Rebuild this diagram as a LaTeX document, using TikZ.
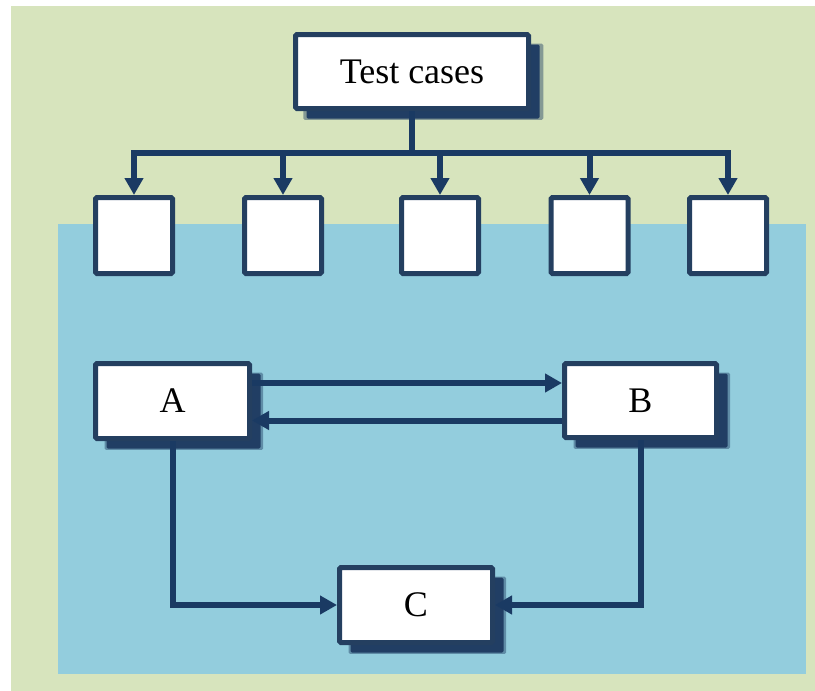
\documentclass[tikz,border=0pt]{standalone}
\usepackage{fontspec}
\setmainfont{Liberation Serif}
\usetikzlibrary{arrows.meta,shadows}
\definecolor{bggreen}{HTML}{D7E4BD}
\definecolor{bgblue}{HTML}{93CDDD}
\definecolor{dark}{HTML}{243F60}
\definecolor{line}{HTML}{1A3A63}
\definecolor{shadowc}{HTML}{213E64}
\begin{document}
\begin{tikzpicture}[x=1pt,y=-1pt,
  box/.style={draw=dark,fill=white,line width=5pt,rounded corners=1.5pt,inner sep=0pt,
    font=\fontsize{36}{40}\selectfont},
  shbox/.style={box,
    general shadow={fill=shadowc,opacity=0.45,shadow xshift=11pt,shadow yshift=-10pt,shadow scale=1.03},
    general shadow={fill=shadowc,shadow xshift=11pt,shadow yshift=-10pt}},
  small/.style={box,minimum width=77pt,minimum height=76pt},
  conn/.style={draw=line,line width=6pt},
  arr/.style={conn,-{Triangle[length=17pt,width=18pt]}}]
\useasboundingbox (0,0) rectangle (815,691);
\fill[white] (0,0) rectangle (815,691);
\fill[bggreen] (11,6) rectangle (815,691);
\fill[bgblue] (58,224) rectangle (806,674);
\node[shbox,minimum width=233pt,minimum height=74pt] (tc) at (412,71.5) {Test cases};
\node[small] (s1) at (134,235.5) {};
\node[small] (s2) at (283,235.5) {};
\node[small] (s3) at (440,235.5) {};
\node[small] (s4) at (589.5,235.5) {};
\node[small] (s5) at (728,235.5) {};
\node[shbox,minimum width=154pt,minimum height=75pt] (A) at (172.5,401) {A};
\node[shbox,minimum width=152pt,minimum height=74pt] (B) at (640.5,400.5) {B};
\node[shbox,minimum width=153pt,minimum height=75pt] (C) at (416,605) {C};
\coordinate (bus) at (412,153);
\draw[conn] (tc.south) -- (bus);
\foreach \s in {s1,s2,s3,s4,s5}{
  \draw[arr] (bus) -| (\s.north);
}
\draw[arr] ([yshift=18pt]A.east) -- ([yshift=18pt]A.east -| B.west);
\draw[arr] ([yshift=-20pt]B.west) -- ([yshift=-20pt]B.west -| A.east);
\draw[arr] (A.south) |- (C.west);
\draw[arr] (B.south) |- (C.east);
\end{tikzpicture}
\end{document}
